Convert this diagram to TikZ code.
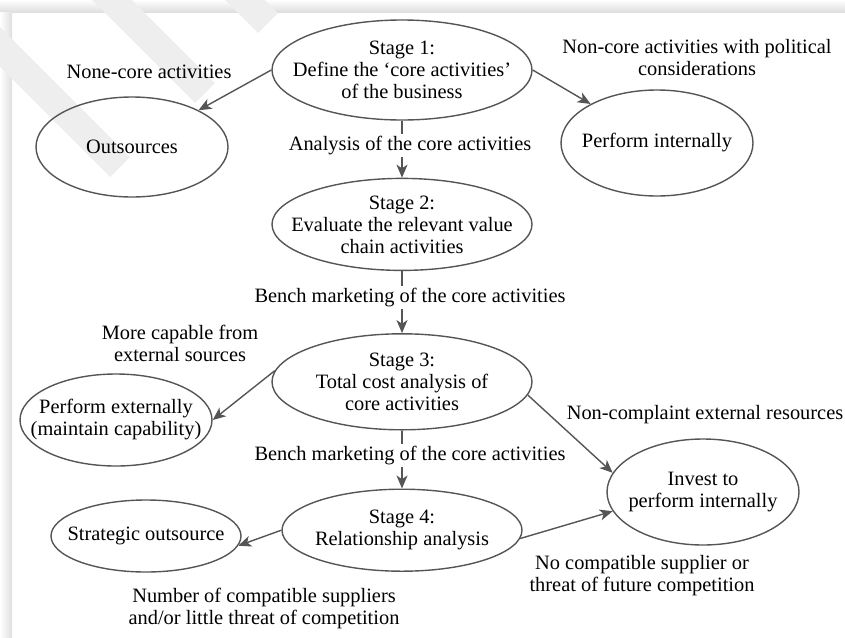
\documentclass[tikz,border=0pt]{standalone}
\usepackage{fontspec}
\setmainfont{Liberation Serif}
\usetikzlibrary{positioning,shapes.geometric,arrows.meta}
\definecolor{edgegray}{RGB}{85,85,85}
\newcommand{\figfont}{\fontsize{10.2}{11}\selectfont}
\tikzset{
  stage/.style={draw=edgegray, ellipse, line width=0.7pt, inner sep=-40pt, minimum width=130pt, align=center, font=\figfont},
  side/.style={draw=edgegray, ellipse, line width=0.7pt, inner sep=-40pt, minimum width=96pt, align=center, font=\figfont},
  note/.style={align=center, font=\figfont, inner sep=1pt},
  elab/.style={note, fill=white, text=black, pos=0.43, xshift=4pt},
  cf/.style={-{Stealth[length=6.5pt,width=5.5pt,inset=1.8pt]}, edgegray, line width=0.7pt},
  wm/.style={gray!13, line width=14pt, line cap=butt},
  pageedge/.style={draw=none}
}

\begin{document}
\begin{tikzpicture}[x=0.5pt, y=-0.5pt]
  \useasboundingbox (0,0) rectangle (845,637);
  % page shadow and watermark
  \shade[pageedge, top color=white, bottom color=gray!25] (0,0) rectangle (845,12);
  \shade[pageedge, left color=white, right color=gray!25] (0,12) rectangle (12,637);
  \draw[wm] (-20,27) -- (120,167);
  \draw[wm] (100,-12) -- (205,93);
  \draw[wm] (225,-20) -- (268,23);

  % stages
  \node[stage, minimum height=50pt] (s1) at (402,70) {Stage 1:\\Define the ‘core activities’\\of the business};
  \node[stage, minimum height=46pt, below=28.5pt of s1] (s2) {Stage 2:\\Evaluate the relevant value\\chain activities};
  \node[stage, minimum height=48pt, below=31pt of s2] (s3) {Stage 3:\\Total cost analysis of\\core activities};
  \node[stage, minimum width=120pt, minimum height=41pt, below=29pt of s3] (s4) {Stage 4:\\Relationship analysis};

  % outcomes
  \node[side, minimum height=50pt] (out) at (132,147) {Outsources};
  \node[side, minimum height=53pt] (pint) at (657,143) {Perform internally};
  \node[side, minimum height=46pt] (pext) at (116,420) {Perform externally\\(maintain capability)};
  \node[side, minimum width=95pt, minimum height=36pt] (strat) at (146,536) {Strategic outsource};
  \node[side, minimum height=53pt] (inv) at (703,492) {Invest to\\perform internally};

  % conditions
  \node[note] (nnone) at (149,72) {None-core activities};
  \node[note] (npol) at (697,58) {Non-core activities with political\\considerations};
  \node[note] (ncap) at (180,343) {More capable from\\external sources};
  \node[note] (ncompl) at (705,415) {Non-complaint external resources};
  \node[note] (nnosup) at (642,576) {No compatible supplier or\\threat of future competition};
  \node[note] (nnum) at (264,608) {Number of compatible suppliers\\and/or little threat of competition};

  \draw[cf] (s1.south) -- node[elab] (l12) {Analysis of the core activities} (s2.north);
  \draw[cf] (s2.south) -- node[elab] (l23) {Bench marketing of the core activities} (s3.north);
  \draw[cf] (s3.south) -- node[elab] (l34) {Bench marketing of the core activities} (s4.north);
  \draw[cf] (s1.west) -- (out);
  \draw[cf] (s1.east) -- (pint);
  \draw[cf] (s3.175) -- (pext.east);
  \draw[cf] (s3.-6) -- (inv.168);
  \draw[cf] (s4.west) -- (strat.-6);
  \draw[cf] (s4.-4) -- (inv.192);
\end{tikzpicture}
\end{document}
